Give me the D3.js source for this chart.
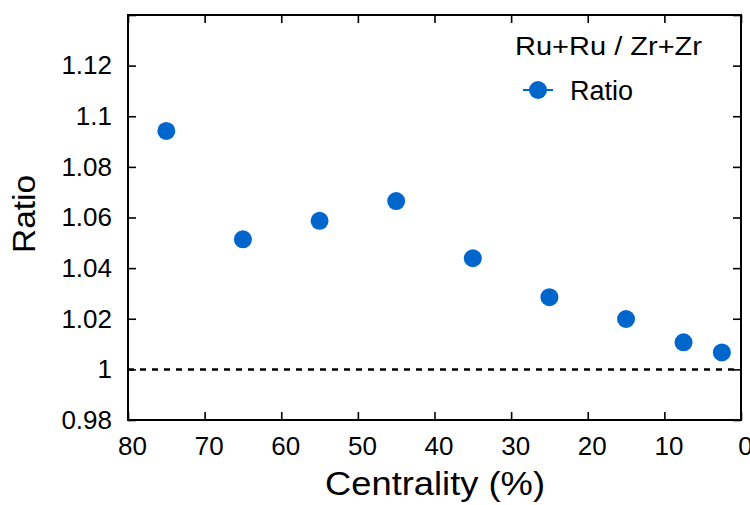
<!DOCTYPE html>
<html><head><meta charset="utf-8">
<script src="https://cdn.jsdelivr.net/npm/d3@7"></script>
<style>body{margin:0;background:#fff}svg{display:block}text{font-family:"Liberation Sans",Arial,Helvetica,sans-serif}</style>
</head><body>
<svg id="c" width="750" height="505"></svg>
<script>
const centrality = [75, 65, 55, 45, 35, 25, 15, 7.5, 2.5];
const ratio = [1.0942, 1.0514, 1.0587, 1.0665, 1.0439, 1.0285, 1.0199, 1.0107, 1.0067];
const xTicks = [80, 70, 60, 50, 40, 30, 20, 10, 0];
const yTicks = [0.98, 1.0, 1.02, 1.04, 1.06, 1.08, 1.1, 1.12, 1.14];
const yTickLabels = ["0.98", "1", "1.02", "1.04", "1.06", "1.08", "1.1", "1.12", ""];
const legendTitle = "Ru+Ru / Zr+Zr";
const seriesName = "Ratio";
const xTitle = "Centrality (%)";
const yTitle = "Ratio";

(function () {
const L = 128, R = 741, T = 15, B = 420;
const color = "#0066cc";
const svg = d3.select("#c");
const x = d3.scaleLinear().domain([80, 0]).range([L, R]);
const y = d3.scaleLinear().domain([0.98, 1.14]).range([B, T]);

svg.append("line").attr("x1", L).attr("x2", R).attr("y1", y(1)).attr("y2", y(1))
  .attr("stroke", "#000").attr("stroke-width", 2.5).attr("stroke-dasharray", "6,6");

function styleAxis(g) {
  g.select(".domain").remove();
  g.selectAll(".tick line").attr("stroke", "#000").attr("stroke-width", 1.6);
  g.selectAll("text").attr("font-size", 26).attr("fill", "#000");
}
const axB = svg.append("g").attr("transform", `translate(0,${B})`)
  .call(d3.axisBottom(x).tickValues(xTicks).tickSize(-8).tickPadding(17).tickFormat(d3.format("d")));
styleAxis(axB); axB.selectAll("text").attr("dx", 4);
const axT = svg.append("g").attr("transform", `translate(0,${T})`)
  .call(d3.axisTop(x).tickValues(xTicks).tickSize(-8).tickFormat(""));
styleAxis(axT);
const axL = svg.append("g").attr("transform", `translate(${L},0)`)
  .call(d3.axisLeft(y).tickValues(yTicks).tickSize(-8).tickPadding(16).tickFormat((d, i) => yTickLabels[i]));
styleAxis(axL);
const axR = svg.append("g").attr("transform", `translate(${R},0)`)
  .call(d3.axisRight(y).tickValues(yTicks).tickSize(-8).tickFormat(""));
styleAxis(axR);

svg.append("rect").attr("x", L).attr("y", T).attr("width", R - L).attr("height", B - T)
  .attr("fill", "none").attr("stroke", "#000").attr("stroke-width", 2);

svg.append("g").selectAll("circle").data(centrality).join("circle")
  .attr("cx", d => x(d)).attr("cy", (d, i) => y(ratio[i])).attr("r", 9).attr("fill", color);

svg.append("text").attr("x", 435).attr("y", 495).attr("text-anchor", "middle")
  .attr("font-size", 33).attr("textLength", 220).attr("lengthAdjust", "spacingAndGlyphs").text(xTitle);
svg.append("text").attr("transform", "translate(35,214) rotate(-90)").attr("text-anchor", "middle")
  .attr("font-size", 31).attr("textLength", 78).attr("lengthAdjust", "spacingAndGlyphs").text(yTitle);

svg.append("text").attr("x", 515).attr("y", 55).attr("font-size", 26)
  .attr("textLength", 187).attr("lengthAdjust", "spacingAndGlyphs").text(legendTitle);
svg.append("line").attr("x1", 523).attr("x2", 553).attr("y1", 90).attr("y2", 90)
  .attr("stroke", color).attr("stroke-width", 2);
svg.append("circle").attr("cx", 538).attr("cy", 90).attr("r", 9).attr("fill", color);
svg.append("text").attr("x", 570).attr("y", 100).attr("font-size", 27).text(seriesName);
})();
</script>
</body></html>
